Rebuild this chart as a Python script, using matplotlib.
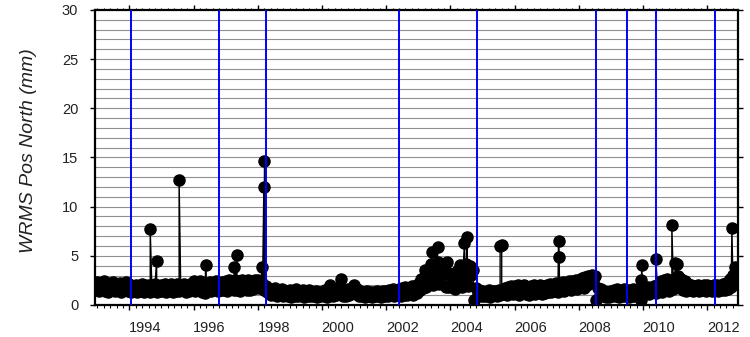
import numpy as np
import matplotlib
matplotlib.use("Agg")
import matplotlib.pyplot as plt
import matplotlib.transforms as mtransforms
from matplotlib.ticker import MultipleLocator

plt.rcParams['font.family'] = ['Liberation Sans', 'DejaVu Sans']

# WRMS north position residuals (mm), one value every 0.05 yr from 1992.95
t_start = 1992.95
t_step = 0.05
wrms_base = [
    1.6, 2.3, 1.4, 2.15, 1.5, 2.45, 1.4, 2.25, 1.35, 2.05, 1.5, 2.35, 1.4, 2.15, 1.6, 2.25, 1.35, 2.05, 1.5, 2.35,   # 1993
    1.45, 2.15, 1.35, 1.95, 1.5, 2.05, 1.3, 1.95, 1.45, 2.15, 1.35, 2.0, 1.5, 2.05, 1.35, 1.95, 1.45, 2.1, 1.35, 1.95,  # 1994
    1.4, 2.05, 1.45, 2.15, 1.35, 2.0, 1.5, 2.1, 1.35, 2.05, 1.45, 2.15, 1.4, 2.0, 1.5, 2.15, 1.35, 2.05, 1.45, 2.1,  # 1995
    1.5, 2.4, 1.45, 2.35, 1.6, 2.45, 1.3, 2.25, 1.25, 2.15, 1.5, 2.35, 1.45, 2.25, 1.6, 2.4, 1.4, 2.15, 1.5, 2.35,   # 1996
    1.55, 2.45, 1.45, 2.5, 1.6, 2.35, 1.5, 2.5, 1.55, 2.45, 1.45, 2.55, 1.6, 2.45, 1.5, 2.5, 1.5, 2.45, 1.6, 2.55,  # 1997
    2.0, 2.5, 1.7, 2.4, 1.8, 1.5, 1.9, 1.3, 1.6, 1.05, 1.5, 1.15, 1.7, 0.9, 1.5, 1.0, 1.6, 0.95, 1.45, 1.1,   # 1998
    0.95, 1.55, 0.85, 1.45, 0.95, 1.6, 0.9, 1.45, 1.0, 1.5, 0.85, 1.4, 0.95, 1.55, 0.9, 1.35, 0.95, 1.45, 0.85, 1.3,  # 1999
    0.9, 1.35, 0.95, 1.5, 0.85, 1.6, 2.0, 1.45, 0.95, 1.55, 1.0, 1.7, 1.4, 2.6, 0.9, 1.55, 0.95, 1.65, 1.0, 1.45,  # 2000
    1.5, 2.0, 1.1, 1.6, 0.9, 1.45, 0.95, 1.35, 0.85, 1.4, 0.95, 1.3, 0.85, 1.35, 0.95, 1.45, 0.9, 1.35, 0.85, 1.4,  # 2001
    0.95, 1.45, 0.9, 1.55, 1.0, 1.65, 0.95, 1.5, 1.0, 1.65, 0.95, 1.75, 1.05, 1.85, 1.0, 1.75, 1.1, 1.95, 1.05, 1.9,  # 2002
    1.2, 2.1, 1.5, 2.6, 1.7, 3.0, 1.8, 3.4, 2.6, 4.2, 2.0, 3.7, 3.0, 4.4, 2.1, 3.9, 3.1, 4.2, 1.8, 3.4,   # 2003
    1.8, 3.1, 2.3, 2.9, 1.6, 3.5, 2.8, 4.1, 1.8, 3.9, 3.0, 4.2, 1.9, 4.0, 3.1, 3.6, 0.5, 1.7, 1.15, 1.55,   # 2004
    0.95, 1.45, 0.9, 1.35, 0.95, 1.5, 0.85, 1.4, 1.0, 1.45, 0.9, 1.55, 1.05, 1.45, 1.15, 1.75, 1.05, 1.85, 1.25, 1.95,  # 2005
    1.15, 1.95, 1.25, 2.05, 1.05, 1.85, 1.35, 2.0, 1.15, 1.8, 1.05, 1.9, 1.25, 2.05, 1.15, 1.9, 1.35, 2.05, 1.15, 1.95,  # 2006
    1.25, 2.05, 1.35, 2.15, 1.3, 2.0, 1.45, 2.25, 1.35, 2.15, 1.55, 2.35, 1.45, 2.25, 1.65, 2.45, 1.55, 2.4, 1.75, 2.55,  # 2007
    1.65, 2.55, 1.85, 2.75, 1.75, 2.85, 2.05, 3.0, 2.25, 3.1, 2.45, 2.9, 0.5, 1.75, 1.05, 1.65, 0.95, 1.45, 0.85, 1.35,   # 2008
    0.85, 1.45, 0.9, 1.55, 0.95, 1.65, 0.85, 1.45, 0.9, 1.6, 0.95, 1.55, 0.85, 1.5, 0.95, 1.65, 0.9, 1.55, 0.95, 1.75,  # 2009
    0.5, 1.1, 1.75, 1.25, 1.85, 1.15, 1.75, 1.35, 1.95, 1.25, 2.05, 1.45, 2.45, 1.35, 2.55, 1.55, 2.65, 1.45, 2.45, 1.65,   # 2010
    1.65, 2.75, 1.85, 2.95, 1.75, 2.65, 1.55, 2.45, 1.45, 2.15, 1.55, 2.05, 1.4, 1.95, 1.55, 2.05, 1.45, 1.9, 1.55, 2.0,  # 2011
    1.45, 2.05, 1.55, 1.95, 1.4, 2.0, 1.55, 2.05, 1.45, 1.95, 1.55, 2.15, 1.5, 2.25, 1.65, 2.65, 1.85, 3.05, 2.1, 3.4,  # 2012
    3.7,
]

# isolated outliers
spike_years = [1994.65, 1994.85, 1995.55, 1996.38, 1997.27, 1997.35, 1998.14, 1998.19, 1998.21,
               2003.21, 2003.42, 2003.60, 2003.89, 2004.44, 2004.51, 2005.55, 2005.60,
               2007.37, 2007.39, 2009.94, 2009.96, 2010.40, 2010.90, 2011.00, 2011.05,
               2012.77, 2012.87]
spike_vals = [7.7, 4.5, 12.7, 4.05, 3.9, 5.05, 3.9, 11.95, 14.6,
              3.55, 5.35, 5.9, 4.35, 6.3, 6.95, 6.05, 6.15,
              6.5, 4.9, 2.55, 4.1, 4.65, 8.1, 4.3, 4.15,
              7.8, 3.9]

# blue vertical lines (breaks)
break_years = [1994.04, 1996.79, 1998.27, 2002.41, 2004.82, 2008.53, 2009.50, 2010.41, 2012.24]

year_labels = [1994, 1996, 1998, 2000, 2002, 2004, 2006, 2008, 2010, 2012]

base_years = t_start + t_step * np.arange(len(wrms_base))
yrs = np.concatenate([base_years, spike_years])
vals = np.concatenate([wrms_base, spike_vals])
order = np.argsort(yrs, kind="stable")

fig = plt.figure(figsize=(7.5, 3.37), dpi=100)
ax = fig.add_axes([95 / 750, 32 / 337, 643.3 / 750, 295 / 337])
ax.set_xlim(1992.93, 2012.97)
ax.set_ylim(0, 30)

for v in range(1, 30):
    ax.axhline(v, color="#8f8f8f", lw=0.8, zorder=1)

ax.plot(yrs[order], vals[order], "-o", color="black", lw=1.0, ms=8.0, zorder=2)

for b in break_years:
    ax.axvline(b, color="#0000ff", lw=1.4, zorder=3)

ax.set_xticks(year_labels)
ax.set_xticklabels([])
ax.xaxis.set_minor_locator(MultipleLocator(0.2))
ax.set_yticks(range(0, 31, 5))
ax.tick_params(axis="x", which="major", length=3.6, width=1.0, top=True, bottom=True, direction="out")
ax.tick_params(axis="x", which="minor", length=1.8, width=0.8, top=True, bottom=True, direction="out")
ax.tick_params(axis="y", which="major", length=3.6, width=1.0, left=True, right=True, direction="out",
               labelsize=10.5, pad=8.5, labelcolor="#222222")

for s in ax.spines.values():
    s.set_linewidth(1.6)

trans = mtransforms.blended_transform_factory(ax.transData, ax.transAxes)
for yr in year_labels:
    ax.text(yr + 0.5, -0.078, str(yr), transform=trans, ha="center", va="center",
            fontsize=10.5, color="#222222")

fig.text(29 / 750, 1 - 151 / 337, "WRMS Pos North (mm)", rotation=90, ha="center", va="center",
         fontsize=14, style="italic", color="#222222")

fig.savefig("out.png", dpi=100)
